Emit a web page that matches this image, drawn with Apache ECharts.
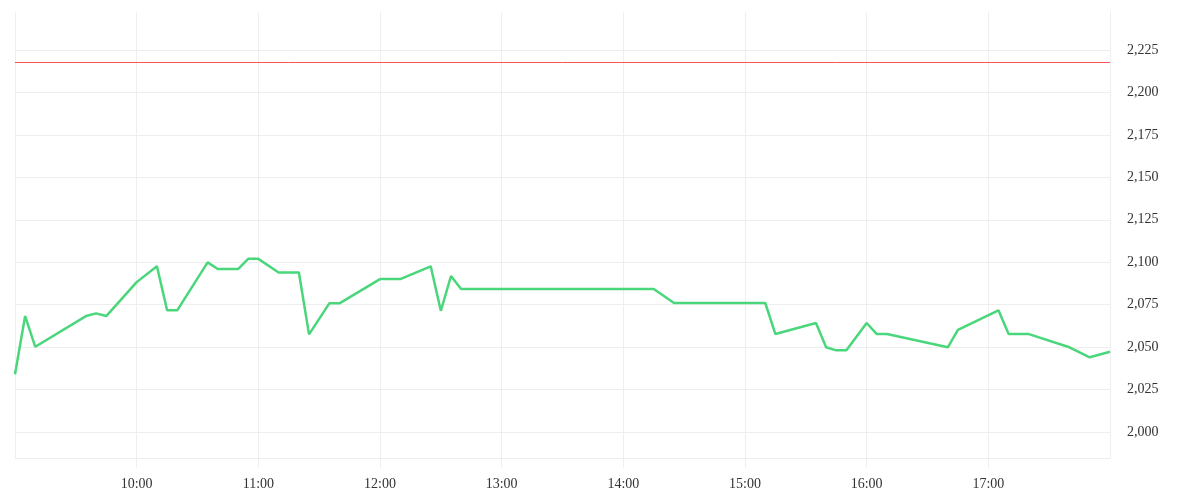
<!DOCTYPE html>
<html>
<head>
<meta charset="utf-8">
<script src="https://cdn.jsdelivr.net/npm/echarts@6/dist/echarts.min.js"></script>
<style>html,body{margin:0;padding:0;background:#fff}#c{width:1200px;height:500px}</style>
</head>
<body>
<div id="c"></div>
<script>
const times = ['09:00','09:05','09:10','09:35','09:40','09:45','10:00','10:10','10:15','10:20','10:35','10:40','10:50','10:55','11:00','11:10','11:20','11:25','11:35','11:40','12:00','12:10','12:25','12:30','12:35','12:40','14:15','14:25','15:10','15:15','15:35','15:40','15:45','15:50','16:00','16:05','16:10','16:40','16:45','17:05','17:10','17:20','17:40','17:50','18:00'];
const prices = [2034.0,2068.3,2050.2,2068.3,2069.9,2068.3,2088.3,2097.6,2071.7,2071.7,2099.9,2096.0,2096.0,2102.0,2102.0,2094.0,2094.0,2057.5,2075.8,2075.8,2090.1,2090.1,2097.6,2071.4,2091.9,2084.2,2084.2,2076.0,2076.0,2057.7,2064.2,2049.9,2048.1,2048.1,2064.2,2057.7,2057.7,2049.9,2060.1,2071.7,2057.7,2057.7,2049.9,2044.0,2047.3];
const referenceLevel = 2217.7;
const yTicks = [2000,2025,2050,2075,2100,2125,2150,2175,2200,2225];
const yMin = 1984.7, yMax = 2247.4;
const xStart = '09:00', xEnd = '18:00';

function toMin(t){ const p = t.split(':'); return (+p[0])*60 + (+p[1]); }
function fmtMin(v){ const h = Math.floor(v/60), m = Math.round(v%60); return (h<10?'0':'')+h+':'+(m<10?'0':'')+m; }

const data = times.map((t,i)=>[toMin(t), prices[i]]);
const font = 'Liberation Serif';
const chart = echarts.init(document.getElementById('c'));
chart.setOption({
  animation:false,
  grid:{left:15,right:90,top:12,bottom:42},
  xAxis:{
    type:'value', min:toMin(xStart), max:toMin(xEnd), interval:60,
    axisLine:{show:true,lineStyle:{color:'#eeeeee'}},
    axisTick:{show:true,length:10,lineStyle:{color:'#eeeeee'}},
    splitLine:{show:true,lineStyle:{color:'#eeeeee'}},
    axisLabel:{showMinLabel:false,showMaxLabel:false,margin:19,color:'#333',fontFamily:font,fontSize:14,formatter:v=>fmtMin(v)}
  },
  yAxis:{
    type:'value', position:'right', min:yMin, max:yMax, scale:true,
    axisLine:{show:true,lineStyle:{color:'#eeeeee'}},
    axisTick:{show:false,customValues:yTicks},
    splitLine:{show:true,lineStyle:{color:'#eeeeee'}},
    axisLabel:{customValues:yTicks,margin:17,padding:[5,0,0,0],color:'#333',fontFamily:font,fontSize:14,formatter:v=>v.toLocaleString('en-US')}
  },
  series:[{
    type:'line', data:data, showSymbol:false, symbol:'none',
    lineStyle:{color:'#4ad67b',width:2.5}, itemStyle:{color:'#4ad67b'},
    markLine:{silent:true,symbol:'none',label:{show:false},
      lineStyle:{color:'#ff5252',width:1,type:'solid'},
      data:[{yAxis:referenceLevel}]}
  }]
});
</script>
</body>
</html>
